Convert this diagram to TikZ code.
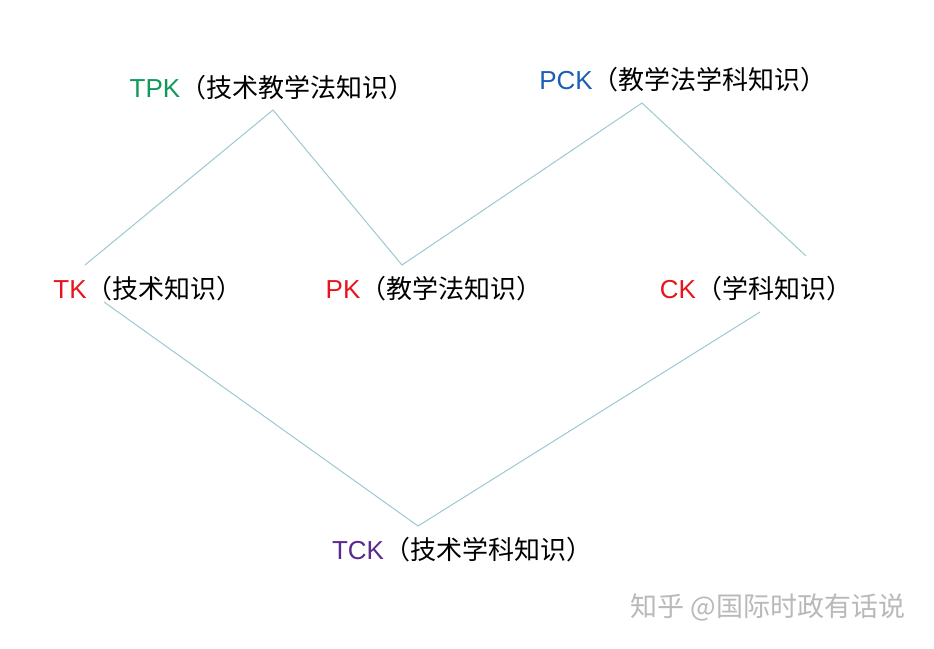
\documentclass[tikz,border=0pt]{standalone}
\usepackage{fontspec}
\setmainfont{Noto Sans CJK SC}
\newfontfamily\lat{Liberation Sans}
\definecolor{lg}{HTML}{9CC9D2}
\definecolor{tred}{HTML}{E8141C}
\definecolor{tgreen}{HTML}{0E9A5A}
\definecolor{tblue}{HTML}{1A5FB4}
\definecolor{tpurple}{HTML}{5A2A8C}
\begin{document}
\begin{tikzpicture}[x=1pt,y=-1pt,
  lab/.style={font=\fontsize{26}{30}\selectfont,inner sep=0pt,anchor=center},
  link/.style={draw=lg,line width=1pt}]
\useasboundingbox[fill=white] (0,0) rectangle (934,648);
\node[lab] (tpk) at (272,88) {\textcolor{tgreen}{\lat TPK}（技术教学法知识）};
\node[lab] (pck) at (683,80) {\textcolor{tblue}{\lat PCK}（教学法学科知识）};
\node[lab] (tk) at (148,289) {\textcolor{tred}{\lat TK}（技术知识）};
\node[lab] (pk) at (434,289) {\textcolor{tred}{\lat PK}（教学法知识）};
\node[lab] (ck) at (756,289) {\textcolor{tred}{\lat CK}（学科知识）};
\node[lab] (tck) at (462,550) {\textcolor{tpurple}{\lat TCK}（技术学科知识）};
\node[lab,text=gray!55,font=\fontsize{27}{30}\selectfont] (wm) at (768,607) {知乎 @国际时政有话说};
\coordinate (a) at (85,265);
\coordinate (b) at (273,110);
\coordinate (c) at (402,265);
\coordinate (d) at (642,103);
\coordinate (e) at (806,256);
\coordinate (f) at (104,302);
\coordinate (g) at (418,526);
\coordinate (h) at (760,312);
\draw[link] (a) -- (b) -- (c) -- (d) -- (e);
\draw[link] (f) -- (g) -- (h);
\end{tikzpicture}
\end{document}
